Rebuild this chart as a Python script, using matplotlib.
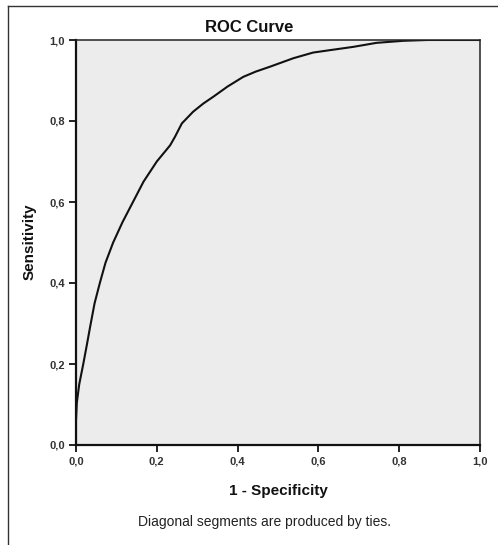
import matplotlib
matplotlib.use('Agg')

from matplotlib import pyplot as plt
from matplotlib.lines import Line2D

plt.rcParams['font.family'] = ['Liberation Sans', 'DejaVu Sans']

# ROC points: false positive rate (1 - specificity) vs sensitivity
fpr = [0.0, 0.0, 0.002, 0.008, 0.018, 0.027, 0.035, 0.046, 0.059, 0.073,
       0.092, 0.115, 0.141, 0.167, 0.2, 0.233, 0.245, 0.262, 0.29, 0.315,
       0.34, 0.375, 0.414, 0.445, 0.48, 0.538, 0.587, 0.629, 0.686, 0.744,
       0.81, 0.87, 0.93, 1.0]
tpr = [0.0, 0.06, 0.104, 0.15, 0.2, 0.248, 0.292, 0.35, 0.4, 0.45,
       0.5, 0.55, 0.6, 0.65, 0.7, 0.74, 0.761, 0.794, 0.823, 0.843,
       0.86, 0.885, 0.909, 0.922, 0.934, 0.955, 0.969, 0.975, 0.983, 0.993,
       0.998, 1.0, 1.0, 1.0]

ticks = [0.0, 0.2, 0.4, 0.6, 0.8, 1.0]
tick_labels = ['0,0', '0,2', '0,4', '0,6', '0,8', '1,0']

W, H = 498, 545
fig = plt.figure(figsize=(W / 100, H / 100), dpi=100)
fig.patch.set_facecolor('white')

# plot area in pixel terms
left, right, top, bottom = 76, 480, 40, 445
ax = fig.add_axes([left / W, 1 - bottom / H, (right - left) / W, (bottom - top) / H])
ax.set_facecolor('#ececec')

ax.plot(fpr, tpr, color='#111111', linewidth=1.5, solid_joinstyle='round')

ax.set_xlim(0, 1)
ax.set_ylim(0, 1)
ax.set_xticks(ticks)
ax.set_yticks(ticks)
ax.set_xticklabels(tick_labels)
ax.set_yticklabels(tick_labels)
ax.tick_params(direction='out', length=5, width=1.3, color='#111111',
               labelsize=8, labelcolor='#333333', pad=3)
for lab in ax.get_xticklabels() + ax.get_yticklabels():
    lab.set_fontweight('bold')

for side in ['left', 'bottom']:
    ax.spines[side].set_linewidth(1.6)
    ax.spines[side].set_color('#111111')
for side in ['top', 'right']:
    ax.spines[side].set_linewidth(1.1)
    ax.spines[side].set_color('#222222')

# titles and captions
fig.text(249 / W, 1 - 27 / H, 'ROC Curve', ha='center', va='center',
         fontsize=12, fontweight='bold', color='#111111')
fig.text(278 / W, 1 - 491 / H, '1 - Specificity', ha='center', va='center',
         fontsize=11, fontweight='bold', color='#111111')
fig.text(30 / W, 1 - 242 / H, 'Sensitivity', ha='center', va='center',
         rotation=90, fontsize=11, fontweight='bold', color='#111111')
fig.text(264 / W, 1 - 522 / H, 'Diagonal segments are produced by ties.',
         ha='center', va='center', fontsize=10, color='#222222')

# outer frame lines on top and left
fig.add_artist(Line2D([8 / W, 1.0], [1 - 6 / H, 1 - 6 / H], color='#333333', linewidth=1.0))
fig.add_artist(Line2D([8 / W, 8 / W], [0.0, 1 - 6 / H], color='#333333', linewidth=1.0))

fig.savefig('out.png', dpi=100)
